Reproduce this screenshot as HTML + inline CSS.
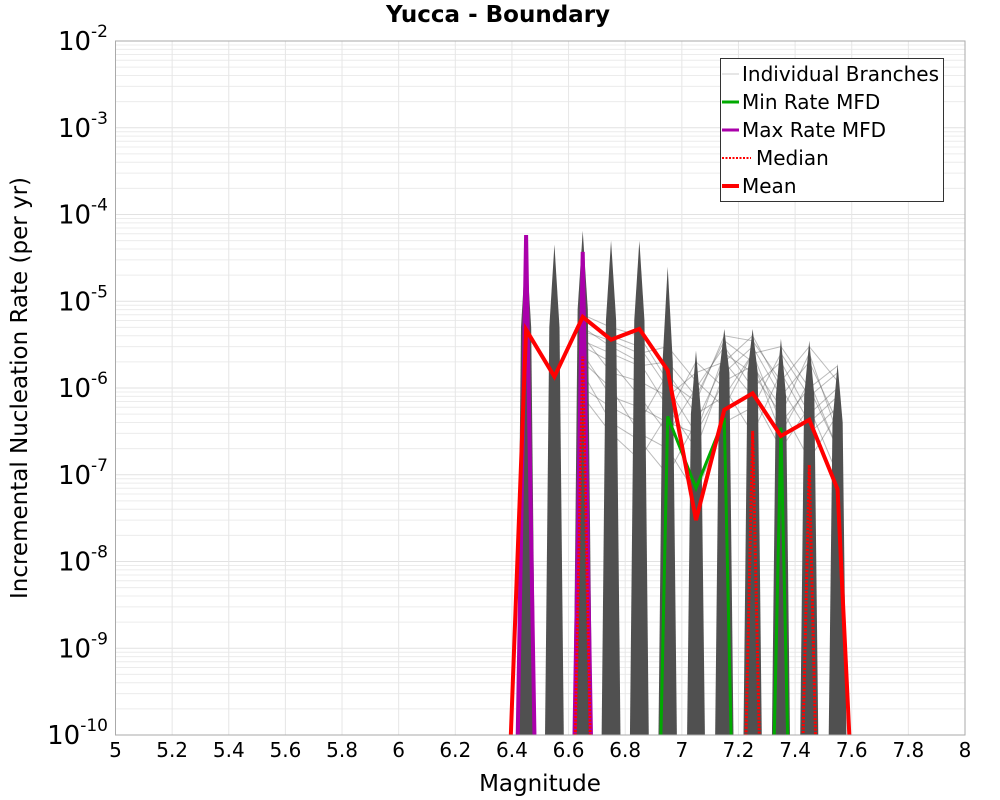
<!DOCTYPE html>
<html><head><meta charset="utf-8"><style>
html,body{margin:0;background:#fff;width:1000px;height:800px;overflow:hidden;}
svg{display:block;font-family:"DejaVu Sans","Liberation Sans",sans-serif;}
</style></head><body>
<svg id="chart" width="1000" height="800" viewBox="0 0 1000 800">
<text x="498" y="22" text-anchor="middle" font-size="23" font-weight="bold">Yucca - Boundary</text>
<g id="grid"></g>
<g id="plot"></g>
<rect x="115.5" y="41" width="849.5" height="694" fill="none" stroke="#aaa"/>
<g id="axes"></g>
<text x="540" y="791" text-anchor="middle" font-size="23">Magnitude</text>
<text transform="translate(27,388) rotate(-90)" text-anchor="middle" font-size="23">Incremental Nucleation Rate (per yr)</text>
<g>
<rect x="720.5" y="58.5" width="223" height="143" fill="#fff" stroke="#333"/>
<g><line x1="722" y1="74" x2="739" y2="74" stroke="#ccc" stroke-width="1"/><text x="742" y="81" font-size="20">Individual Branches</text></g>
<g><line x1="722" y1="102" x2="739" y2="102" stroke="#00aa00" stroke-width="3"/><text x="742" y="109" font-size="20">Min Rate MFD</text></g>
<g><line x1="722" y1="130" x2="739" y2="130" stroke="#aa00aa" stroke-width="3"/><text x="742" y="137" font-size="20">Max Rate MFD</text></g>
<g><line x1="722" y1="158" x2="751" y2="158" stroke="#ff0000" stroke-width="2" stroke-dasharray="2,1.5"/><text x="756" y="165" font-size="20">Median</text></g>
<g><line x1="722" y1="186" x2="739" y2="186" stroke="#ff0000" stroke-width="4"/><text x="742" y="193" font-size="20">Mean</text></g>
</g>
</svg>
<script>
const xTicks=[5,5.2,5.4,5.6,5.8,6,6.2,6.4,6.6,6.8,7,7.2,7.4,7.6,7.8,8];
const yDecades=[-10,-9,-8,-7,-6,-5,-4,-3,-2];
const binMags=[6.45,6.55,6.65,6.75,6.85,6.95,7.05,7.15,7.25,7.35,7.45,7.55];
const spikeMax=[4.5e-5,4.5e-5,6.5e-5,5e-5,5e-5,2.5e-5,2.7e-6,4.8e-6,4.8e-6,3.7e-6,3.5e-6,1.9e-6];
const spikeBody=[5e-6,5e-6,8e-6,6e-6,6e-6,2e-6,5e-7,1.5e-6,1.5e-6,8e-7,8e-7,4e-7];
const meanMags=[6.35,6.45,6.55,6.65,6.75,6.85,6.95,7.05,7.15,7.25,7.35,7.45,7.55,7.65];
const meanVals=[0,4.7e-6,1.35e-6,6.6e-6,3.6e-6,4.8e-6,1.6e-6,3e-8,5.6e-7,8.7e-7,2.8e-7,4.3e-7,6.8e-8,0];
const minMags=[6.9,6.95,7.05,7.15,7.2,7.3,7.35,7.4];
const minVals=[0,4.7e-7,7e-8,4.5e-7,0,0,3.5e-7,0];
const maxMags=[6.4,6.45,6.5,6.6,6.65,6.7];
const maxVals=[0,5.8e-5,0,0,3.7e-5,0];
const medMags=[6.6,6.65,6.7,7.2,7.25,7.3,7.4,7.45,7.5];
const medVals=[0,2.3e-6,0,0,3.2e-7,0,0,1.3e-7,0];
const connMags=[6.65,6.75,6.85,6.95,7.05,7.15,7.25,7.35,7.45,7.55];
const connA=[5e-6,3e-6,2e-6,6e-7,2e-7,1.5e-6,3e-6,8e-7,2e-6,4e-7];
const connB=[3e-6,2e-6,8e-7,3e-7,1e-6,3e-6,1e-6,2e-6,5e-7,1e-6];
const connC=[1e-6,6e-7,4e-7,1.5e-6,5e-7,8e-7,2.5e-6,4e-7,1e-6,2e-7];
const connD=[4e-6,1.5e-6,1.2e-6,8e-7,1.5e-6,2e-6,4e-6,1e-6,3e-7,6e-7];
const connE=[2e-6,1e-6,3e-7,2e-7,6e-8,4e-7,6e-7,2.5e-6,8e-7,1.5e-6];
const connF=[6e-6,4e-6,3e-6,1e-6,3e-7,2.5e-6,1.5e-6,5e-7,2.5e-6,3e-7];
const connG=[8e-7,3e-7,1.5e-7,5e-7,2e-6,1e-6,3e-7,1.5e-6,4e-7,8e-7];
const connH=[3.5e-6,2.5e-6,1.8e-6,2e-6,8e-7,3.5e-6,2e-6,3e-7,1.2e-6,2e-7];
const connI=[2.5e-6,8e-7,6e-7,4e-7,3e-7,1.2e-6,1.8e-6,6e-7,1.5e-7,5e-7];
const connJ=[7e-6,5e-6,4e-6,1.2e-6,7e-7,4e-6,3.5e-6,1.2e-6,3e-6,1.2e-6];
const connK=[1.5e-6,4e-7,2.5e-7,1e-7,4e-7,2e-6,8e-7,2e-7,6e-7,1e-7];
const connL=[4.5e-6,3.5e-6,2.5e-6,3e-6,1.2e-6,6e-7,2.5e-6,3e-6,1e-6,1.8e-6];
const conns=[connA,connB,connC,connD,connE,connF,connG,connH,connI,connJ,connK,connL];

const NS="http://www.w3.org/2000/svg";
const L=115.5,R=965,T=41,B=735;
const X=m=>L+(m-5)/3*(R-L);
const Y=v=>{const lv=v>0?Math.log10(v):-14;return T+(-2-lv)/8*(B-T);};
function mk(tag,attrs,parent){const e=document.createElementNS(NS,tag);for(const k in attrs)e.setAttribute(k,attrs[k]);parent.appendChild(e);return e;}
const grid=document.getElementById('grid'),plot=document.getElementById('plot'),axes=document.getElementById('axes');
const defs=mk('defs',{},document.getElementById('chart'));
const cp=mk('clipPath',{id:'clip'},defs);mk('rect',{x:L,y:T,width:R-L,height:B-T},cp);
plot.setAttribute('clip-path','url(#clip)');
for(const d of yDecades){
  if(d<-2){for(let k=2;k<=9;k++){const y=Y(k*Math.pow(10,d));const l=mk('line',{x1:L,x2:R,y1:y,y2:y,stroke:'#ececec','stroke-width':1},grid);
  
  }}
  const y=Y(Math.pow(10,d));
  const g=mk('line',{x1:L,x2:R,y1:y,y2:y,stroke:'#e2e2e2','stroke-width':1},grid);
  
  
  const t=mk('text',{x:108,y:Math.min(y+9,744),'text-anchor':'end','font-size':26},axes);
  
  
  t.appendChild(document.createTextNode('10'));
  const s=mk('tspan',{dy:-13,'font-size':17},t);s.textContent=String(d);
}
for(const m of xTicks){
  const x=X(m);
  const g=mk('line',{x1:x,x2:x,y1:T,y2:B,stroke:'#e6e6e6','stroke-width':1},grid);
  
  
  const t=mk('text',{x:x,y:757,'text-anchor':'middle','font-size':20},axes);
  
  
  t.textContent=String(m);
}
function line(mags,vals,attrs,name){
  const d=mags.map((m,i)=>(i?'L':'M')+X(m).toFixed(2)+','+Y(vals[i]).toFixed(2)).join('');
  const p=mk('path',Object.assign({d:d,fill:'none','stroke-linejoin':'miter'},attrs),plot);
  
  
}
conns.forEach(c=>line(connMags,c,{stroke:'#555','stroke-opacity':0.4,'stroke-width':1},'individual-branch'));
binMags.forEach((m,i)=>{
  const pts=[[m-0.046,0],[m-0.018,spikeBody[i]],[m,spikeMax[i]],[m+0.018,spikeBody[i]],[m+0.046,0]].map(p=>X(p[0]).toFixed(2)+','+Y(p[1]).toFixed(2)).join(' ');
  const p=mk('polygon',{points:pts,fill:'#505050'},plot);
  
  
});
line(maxMags,maxVals,{stroke:'#aa00aa','stroke-width':4},'max-rate-line');
line(minMags,minVals,{stroke:'#00aa00','stroke-width':3},'min-rate-line');
line(medMags,medVals,{stroke:'#ff0000','stroke-width':3,'stroke-dasharray':'2,1.5'},'median-line');
line(meanMags,meanVals,{stroke:'#ff0000','stroke-width':4},'mean-line');
</script>
</body></html>
